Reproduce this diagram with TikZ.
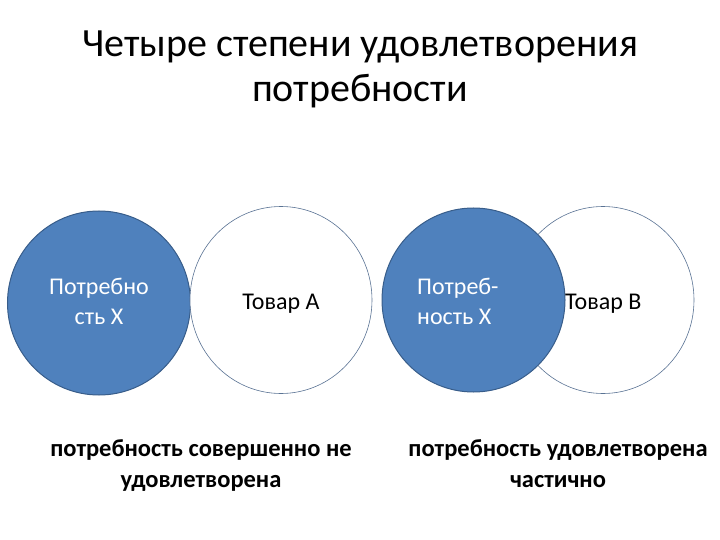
\documentclass[tikz,border=0pt]{standalone}
\usepackage{fontspec}
\setmainfont{Carlito}
\usetikzlibrary{shapes.geometric}
\definecolor{accblue}{HTML}{4F81BD}
\definecolor{accdark}{HTML}{385D8A}
\definecolor{ringline}{HTML}{5A7394}
\tikzset{
  bluedisc/.style={ellipse, fill=accblue, draw=accdark, line width=1pt, minimum width=183pt, minimum height=184pt, inner sep=0pt},
  whitedisc/.style={ellipse, fill=white, draw=ringline, line width=0.6pt, minimum width=182pt, minimum height=187pt, inner sep=0pt},
  intext/.style={font=\fontsize{24}{30}\selectfont, inner sep=0pt},
  captext/.style={font=\fontsize{24.5}{31}\selectfont\bfseries, align=center, inner sep=0pt},
  titletext/.style={font=\fontsize{40}{45}\selectfont, align=center, inner sep=0pt}
}
\begin{document}
\begin{tikzpicture}[x=1pt,y=-1pt]
\useasboundingbox (0,0) rectangle (720,540);
\node[titletext] (title) at (360,70) {Четыре степени удовлетворения\strut\\потребности\strut};
% left pair
\node[bluedisc] (needA) at (99,303) {};
\node[whitedisc] (goodA) at (281,300) {};
% right pair
\node[whitedisc] (goodB) at (603,300) {};
\node[bluedisc] (needB) at (473.5,300) {};
\node[intext, white, align=center] (tneedA) at (99,303) {Потребно\strut\\сть X\strut};
\node[intext] (tgoodA) at (281,303) {Товар А\strut};
\node[intext, white, align=left, anchor=west] (tneedB) at (417,303) {Потреб-\strut\\ность X\strut};
\node[intext, anchor=west] (tgoodB) at (565,303) {Товар В\strut};
\node[captext] (capA) at (201,466) {потребность совершенно не\strut\\удовлетворена\strut};
\node[captext] (capB) at (558,466) {потребность удовлетворена\strut\\частично\strut};
\end{tikzpicture}
\end{document}
